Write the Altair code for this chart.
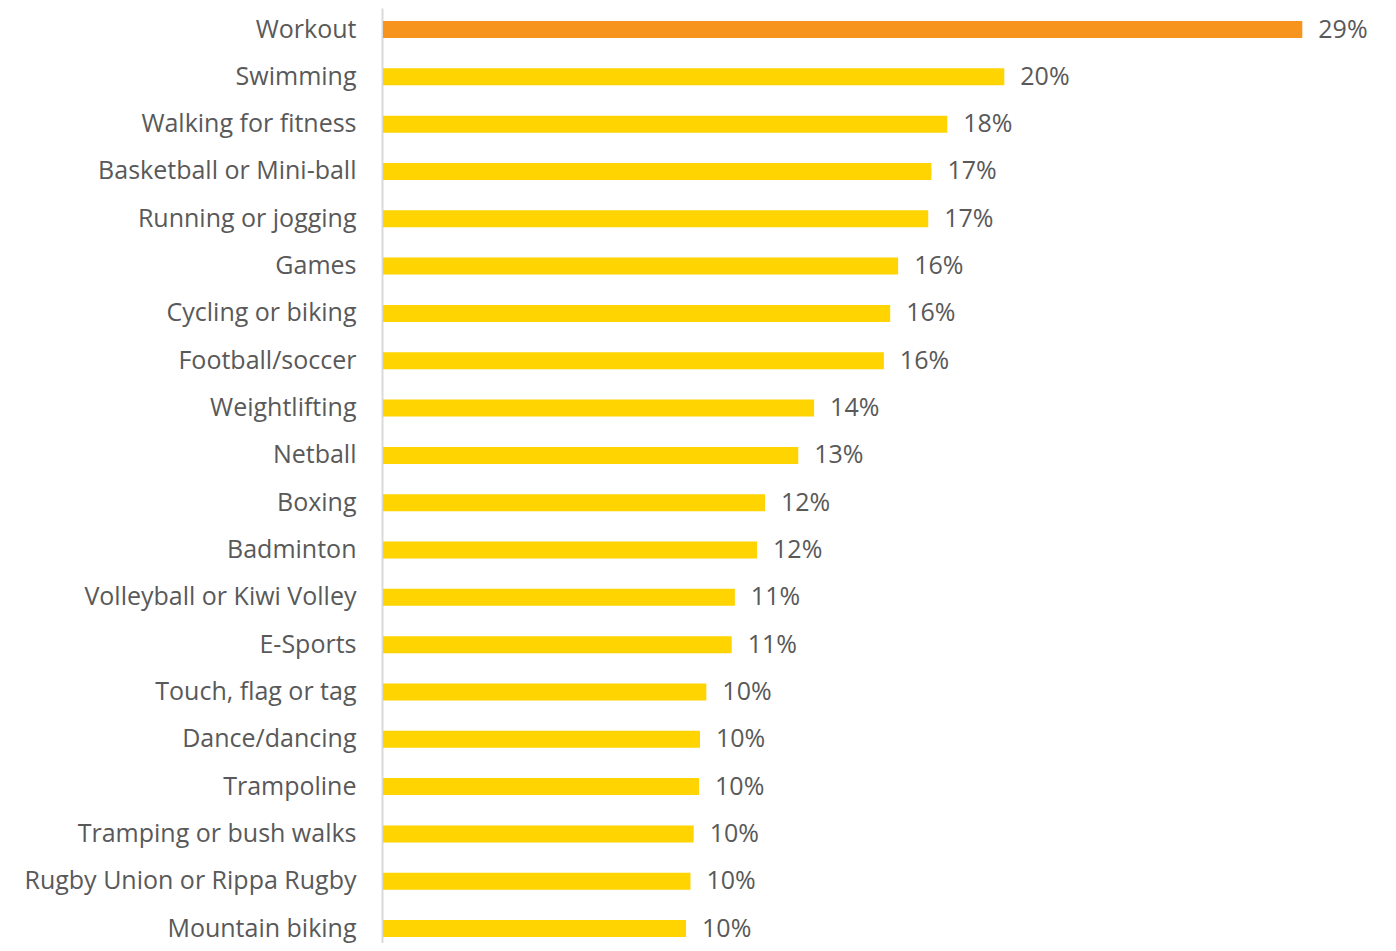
import altair as alt
import pandas as pd

activities = [
    "Workout", "Swimming", "Walking for fitness", "Basketball or Mini-ball",
    "Running or jogging", "Games", "Cycling or biking", "Football/soccer",
    "Weightlifting", "Netball", "Boxing", "Badminton",
    "Volleyball or Kiwi Volley", "E-Sports", "Touch, flag or tag",
    "Dance/dancing", "Trampoline", "Tramping or bush walks",
    "Rugby Union or Rippa Rugby", "Mountain biking",
]
values = [29.0, 19.6, 17.8, 17.3, 17.2, 16.25, 16.0, 15.8, 13.6, 13.1,
          12.05, 11.8, 11.1, 11.0, 10.2, 10.0, 9.97, 9.8, 9.7, 9.56]
labels = ["29%", "20%", "18%", "17%", "17%", "16%", "16%", "16%", "14%", "13%",
          "12%", "12%", "11%", "11%", "10%", "10%", "10%", "10%", "10%", "10%"]
highlight = ["yes"] + ["no"] * 19

df = pd.DataFrame({"activity": activities, "value": values,
                   "label": labels, "highlight": highlight})

FONT = "Open Sans"
TEXT = "#595959"

y = alt.Y("activity:N", sort=activities, title=None,
          scale=alt.Scale(paddingInner=0.6407, paddingOuter=0.2, align=0.687),
          axis=alt.Axis(ticks=False, labelPadding=26, labelFontSize=25,
                        labelFont=FONT, labelColor=TEXT, domainColor="#d9d9d9",
                        domainWidth=2, labelLimit=400, offset=1))
x = alt.X("value:Q", title=None, scale=alt.Scale(domain=[0, 30]), axis=None)

bars = alt.Chart(df).mark_bar().encode(
    x=x, y=y,
    color=alt.Color("highlight:N",
                    scale=alt.Scale(domain=["yes", "no"], range=["#F7941D", "#FFD400"]),
                    legend=None),
)
text = alt.Chart(df).mark_text(align="left", baseline="middle", dx=16,
                               font=FONT, fontSize=25, color=TEXT).encode(
    x=x, y=y, text="label:N")

chart = (bars + text).properties(
    width=951, height=935,
    autosize=alt.AutoSizeParams(type="none"),
    padding={"left": 375, "top": 0, "right": 45, "bottom": 0},
).configure_view(stroke=None)

chart.save("out.html", embed_options={"renderer": "svg", "actions": False})
